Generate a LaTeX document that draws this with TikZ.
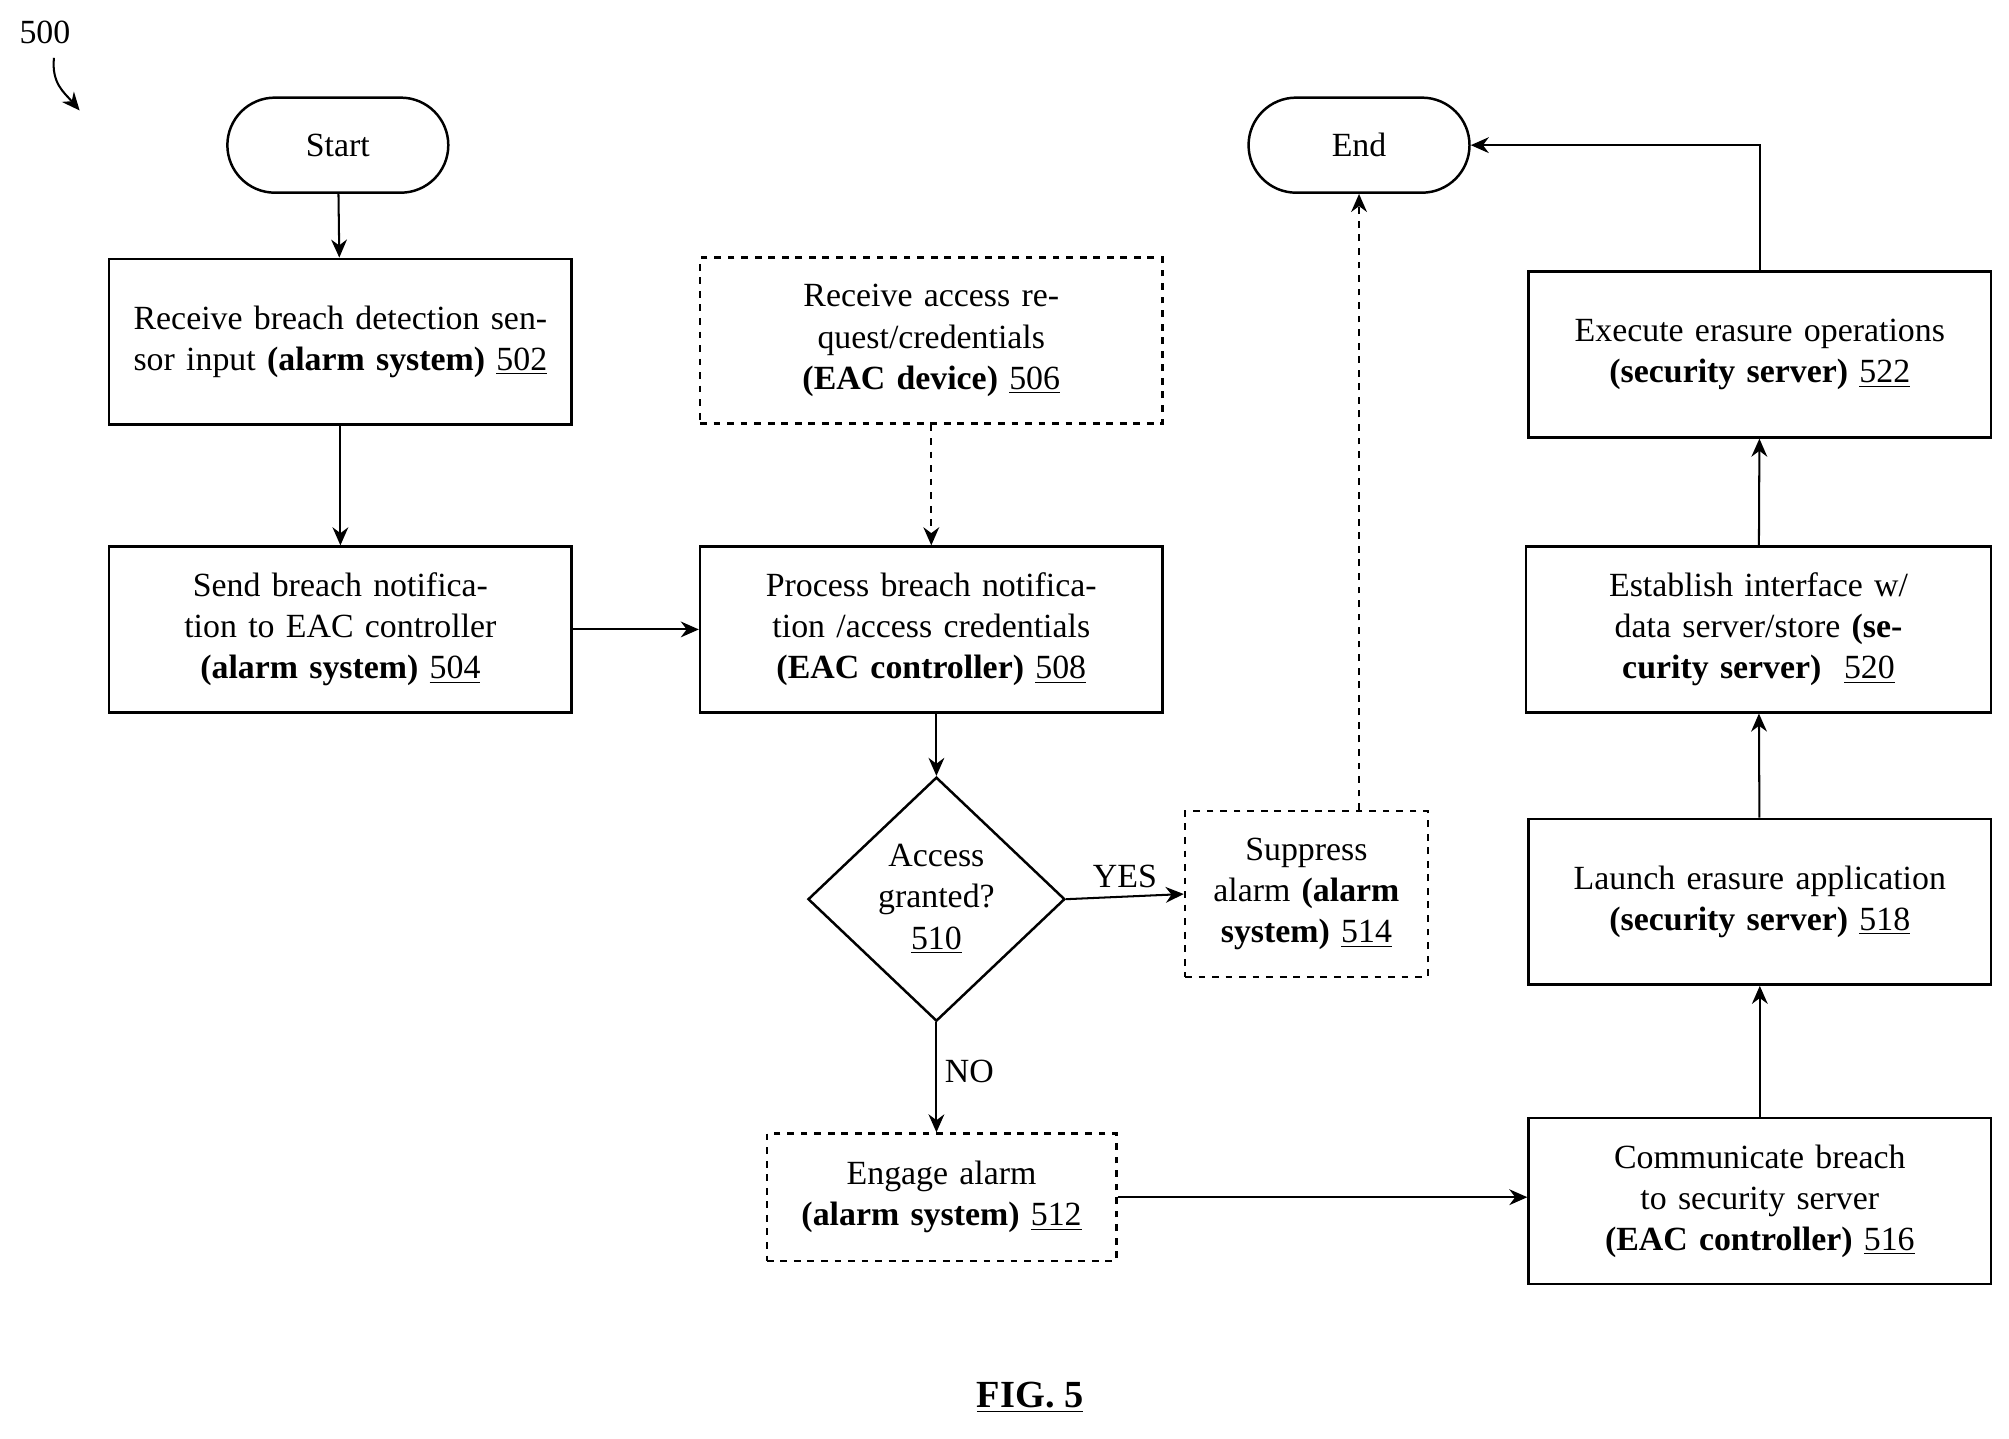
\documentclass[tikz,border=0pt]{standalone}
\usepackage{fontspec}
\setmainfont{Liberation Serif}
\usetikzlibrary{shapes.geometric,arrows.meta}
\begin{document}
\begin{tikzpicture}[x=0.02cm,y=-0.02cm,
 box/.style={draw,line width=1.1pt,minimum width=360*0.02cm,minimum height=129*0.02cm,align=center,text width=330*0.02cm,font=\fontsize{15}{18.2}\selectfont},
 dbox/.style={box,dashed},
 term/.style={draw,line width=1.1pt,rounded corners=37*0.02cm,minimum width=172*0.02cm,minimum height=74*0.02cm,font=\fontsize{15}{18.2}\selectfont},
 arr/.style={-{Stealth[length=8pt,width=7pt]},line width=0.9pt},
 lab/.style={font=\fontsize{15}{18.2}\selectfont}]
\useasboundingbox (0,0) rectangle (1564,1120);
\node[lab] (n500) at (35,25) {500};
\coordinate (a500) at (62,86);
\draw[arr] (42,45) .. controls (40,65) and (50,72) .. (a500);
\node[term] (start) at (263,113) {Start};
\node[term] (end) at (1058,113) {End};
\node[box] (b502) at (265,266) {Receive breach detection sensor input \textbf{(alarm system)} \underline{502}};
\node[box] (b504) at (265,490) {Send breach notification to EAC controller \textbf{(alarm system)} \underline{504}};
\node[dbox] (b506) at (725,265) {Receive access request/credentials \textbf{(EAC device)} \underline{506}};
\node[box] (b508) at (725,490) {Process breach notification /access credentials \textbf{(EAC controller)} \underline{508}};
\node[draw,line width=1.1pt,diamond,minimum width=200*0.02cm,minimum height=190*0.02cm,inner sep=0pt,align=center,font=\fontsize{15}{18.2}\selectfont] (d510) at (729,700) {Access\\granted?\\\underline{510}};
\node[dbox,minimum width=189*0.02cm,text width=170*0.02cm] (b514) at (1017,696) {Suppress alarm \textbf{(alarm system)} \underline{514}};
\node[dbox,minimum width=272*0.02cm,minimum height=99*0.02cm,text width=260*0.02cm] (b512) at (733,932) {Engage alarm\\\textbf{(alarm system)} \underline{512}};
\node[box] (b516) at (1370,935) {Communicate breach to security server \textbf{(EAC controller)} \underline{516}};
\node[box] (b518) at (1370,702) {Launch erasure application \textbf{(security server)} \underline{518}};
\node[box,minimum width=362*0.02cm] (b520) at (1369,490) {Establish interface w/ data server/store \textbf{(security server)}\ \ \underline{520}};
\node[box] (b522) at (1370,276) {Execute erasure operations \textbf{(security server)} \underline{522}};
\node[font=\fontsize{17}{20}\selectfont\bfseries] (fig) at (802,1088) {\underline{FIG. 5}};
\draw[arr] (start) -- (b502);
\draw[arr] (b502) -- (b504);
\draw[arr] (b504) -- (b508);
\draw[arr,dashed] (b506) -- (b508);
\draw[arr] (b508.south -| d510.north) -- (d510.north);
\draw[arr] (d510.east) -- node[lab,above]{YES} (b514.west);
\draw[arr] (d510.south) -- node[lab,right,pos=0.45]{NO} (b512.north -| d510.south);
\draw[arr] (b512) -- (b516.west |- b512);
\draw[arr] (b516) -- (b518);
\draw[arr] (b518) -- (b520);
\draw[arr] (b520) -- (b522);
\draw[arr] (b522.north) |- (end.east);
\draw[arr,dashed] (b514.north -| end.south) -- (end.south);
\end{tikzpicture}
\end{document}
